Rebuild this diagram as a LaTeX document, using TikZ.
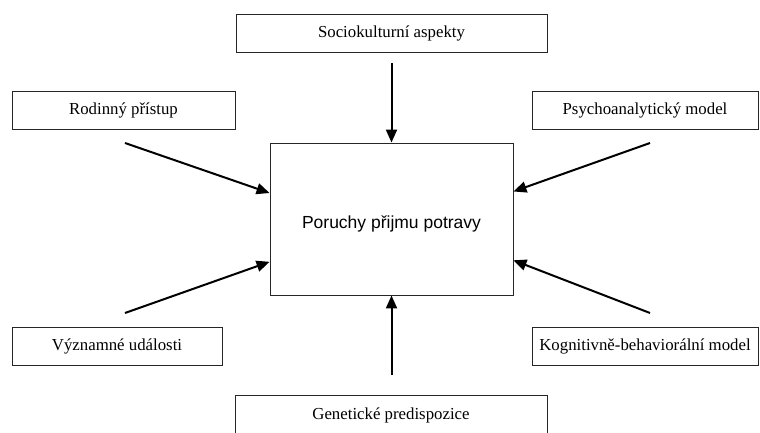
\documentclass[tikz,border=0pt]{standalone}
\usepackage{fontspec}
\setmainfont{Liberation Serif}
\newfontfamily\helv{Liberation Sans}
\usetikzlibrary{arrows.meta,calc}
\begin{document}
\begin{tikzpicture}[x=1pt,y=-1pt,
  box/.style={draw=black!85,line width=0.9pt,rectangle,inner sep=0pt,minimum height=38pt,font=\fontsize{16.8}{19}\selectfont},
  conn/.style={line width=2pt,-{Triangle[length=13pt,width=11pt]}}]
\useasboundingbox (0,0) rectangle (760,433);
\node[box,minimum width=311pt] (soc) at (391.5,33) {Sociokulturní aspekty};
\node[box,minimum width=223pt] (rod) at (123.5,110) {Rodinný přístup};
\node[box,minimum width=226pt] (psy) at (645,110) {Psychoanalytický model};
\node[box,minimum width=210pt] (vyz) at (117,346) {Významné události};
\node[box,minimum width=226pt] (kog) at (645,346) {Kognitivně-behaviorální model};
\node[box,minimum width=312pt,minimum height=41pt] (gen) at (391,415.5) {\raisebox{2pt}{Genetické predispozice}};
\node[box,minimum width=243pt,minimum height=152pt,font=\helv\fontsize{17.5}{20}\selectfont] (ctr) at (391.5,219) {\raisebox{-9pt}[0pt][0pt]{Poruchy přijmu potravy}};
\coordinate (s1) at (391.5,63);
\coordinate (s2) at (125,143);
\coordinate (s3) at (650,143);
\coordinate (s4) at (125,313);
\coordinate (s5) at (650,313);
\coordinate (s6) at (391.5,375);
\draw[conn] (s1) -- (ctr.north);
\draw[conn] (s2) -- ($(ctr.north west)!0.33!(ctr.south west)$);
\draw[conn] (s3) -- ($(ctr.north east)!0.32!(ctr.south east)$);
\draw[conn] (s4) -- ($(ctr.north west)!0.78!(ctr.south west)$);
\draw[conn] (s5) -- ($(ctr.north east)!0.77!(ctr.south east)$);
\draw[conn] (s6) -- (ctr.south);
\end{tikzpicture}
\end{document}
